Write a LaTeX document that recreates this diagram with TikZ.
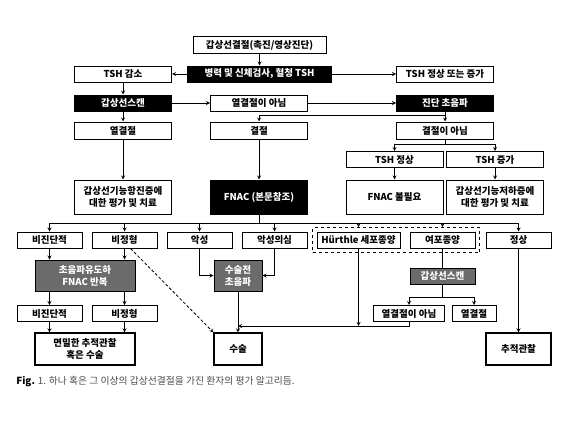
\documentclass[tikz,border=0pt]{standalone}
\usepackage{fontspec}
\newfontfamily\kr{Noto Sans CJK KR}
\usetikzlibrary{fit}
\begin{document}
\begin{tikzpicture}
  [x=1pt, y=-1pt, line width=0.8pt,
   box/.style={draw, line width=1pt, fill=white, inner sep=0pt, minimum height=16pt, align=center,
               font=\kr\bfseries\fontsize{9.5}{12}\selectfont},
   dark box/.style={box, fill=black, text=white},
   gray box/.style={box, fill=black!58, text=white},
   wide/.style={minimum width=97pt},
   narrow/.style={minimum width=65pt},
   tall/.style={minimum height=34pt},
   end box/.style={box, line width=1.3pt, minimum height=32pt},
   grp/.style={draw, dashed, line width=0.9pt, inner sep=4pt}]
  \useasboundingbox (0,0) rectangle (580,420);

  \node[box, minimum width=133pt, minimum height=17pt] (nod) at (259.5,45.5) {갑상선결절(촉진/영상진단)};
  \node[dark box, minimum width=144pt] (hx) at (259.5,74) {병력 및 신체검사, 혈청 TSH};
  \node[box, wide] (tshlow) at (123,74) {TSH 감소};
  \node[box, wide] (tshhigh) at (445,74) {TSH 정상 또는 증가};
  \node[dark box, wide] (scan) at (123,103) {갑상선스캔};
  \node[box, wide] (nothot) at (259,103) {열결절이 아님};
  \node[dark box, wide] (us) at (445,103) {진단 초음파};
  \node[box, wide, minimum height=17pt] (hot) at (123,130.5) {열결절};
  \node[box, wide, minimum height=17pt] (nodule) at (259,130.5) {결절};
  \node[box, wide, minimum height=17pt] (nonod) at (445,130.5) {결절이 아님};
  \node[box, wide] (tshnorm) at (394.5,159.5) {TSH 정상};
  \node[box, wide] (tshinc) at (495,159.5) {TSH 증가};
  \node[box, wide, tall] (hyper) at (123,197) {갑상선기능항진증에\\대한 평가 및 치료};
  \node[dark box, wide, tall] (fnac) at (259,197) {FNAC (본문참조)};
  \node[box, wide, tall] (nofnac) at (394.5,197) {FNAC 불필요};
  \node[box, wide, tall] (hypo) at (495,197) {갑상선기능저하증에\\대한 평가 및 치료};

  \node[box, narrow] (nondx) at (49.5,240) {비진단적};
  \node[box, narrow] (atyp) at (124.5,240) {비정형};
  \node[box, narrow] (malig) at (199.5,240) {악성};
  \node[box, narrow] (susp) at (274.5,240) {악성의심};
  \node[box, minimum width=83pt] (hurthle) at (358.5,240) {Hürthle 세포종양};
  \node[box, narrow] (follic) at (442.5,240) {여포종양};
  \node[box, narrow] (normal) at (518.5,240) {정상};
  \node[grp, fit=(hurthle)(follic)] (grp) {};

  \node[gray box, minimum width=100pt, minimum height=31pt] (usfnac) at (85,275.5) {초음파유도하\\FNAC 반복};
  \node[gray box, minimum width=48pt, minimum height=31pt] (preop) at (238,275.5) {수술전\\초음파};
  \node[gray box, narrow] (scan2) at (442.5,276) {갑상선스캔};
  \node[box, narrow] (nondx2) at (49.5,313.5) {비진단적};
  \node[box, narrow] (atyp2) at (124.5,313.5) {비정형};
  \node[box, minimum width=71pt] (nothot2) at (409,313.5) {열결절이 아님};
  \node[box, minimum width=44pt] (hot2) at (474,313.5) {열결절};
  \node[end box, minimum width=100pt] (close) at (85,349) {면밀한 추적관찰\\혹은 수술};
  \node[end box, minimum width=48pt] (surg) at (238,349) {수술};
  \node[end box, narrow] (followup) at (518.5,349) {추적관찰};

  \node[anchor=west, inner sep=0pt, text=black!70, font=\kr\fontsize{9.8}{12}\selectfont] (cap) at (16,382)
    {\textcolor{black}{\bfseries Fig.} 1. 하나 혹은 그 이상의 갑상선결절을 가진 환자의 평가 알고리듬.};

  \coordinate (usfork) at (445,115);
  \coordinate (nnfork) at (445,144);
  \coordinate (fan) at (259,223);
  \coordinate (scfork) at (442.5,297);
  \coordinate (mrg) at (238,326);

  \draw[-stealth] (nod) -- (hx);
  \draw[-stealth] (hx) -- (tshlow);
  \draw[-stealth] (hx) -- (tshhigh);
  \draw[-stealth] (tshlow) -- (scan);
  \draw[-stealth] (scan) -- (nothot);
  \draw[-stealth] (nothot) -- (us);
  \draw[-stealth] (scan) -- (hot);
  \draw[-stealth] (us) -- (nonod);
  \draw[-stealth] (usfork) -| (nodule);
  \draw (nonod) -- (nnfork);
  \draw[-stealth] (nnfork) -| (tshnorm);
  \draw[-stealth] (nnfork) -| (tshinc);
  \draw[-stealth] (hot) -- (hyper);
  \draw[-stealth] (nodule) -- (fnac);
  \draw[-stealth] (tshnorm) -- (nofnac);
  \draw[-stealth] (tshinc) -- (hypo);

  \draw (fnac) -- (fan);
  \draw (nondx |- fan) -- (normal |- fan);
  \draw[-stealth] (nondx |- fan) -- (nondx);
  \draw[-stealth] (atyp |- fan) -- (atyp);
  \draw[-stealth] (malig |- fan) -- (malig);
  \draw[-stealth] (susp |- fan) -- (susp);
  \draw[-stealth] (hurthle |- fan) -- (hurthle |- grp.north);
  \draw[-stealth] (follic |- fan) -- (follic |- grp.north);
  \draw[-stealth] (normal |- fan) -- (normal);

  \draw[-stealth] (nondx) -- (nondx |- usfnac.north);
  \draw[-stealth] (atyp) -- (atyp |- usfnac.north);
  \draw[-stealth] (nondx |- usfnac.south) -- (nondx2);
  \draw[-stealth] (atyp |- usfnac.south) -- (atyp2);
  \draw[-stealth] (nondx2) -- (nondx2 |- close.north);
  \draw[-stealth] (atyp2) -- (atyp2 |- close.north);
  \draw[densely dashed, -stealth] ([xshift=6pt]atyp.south) -- (surg.north west);

  \draw[-stealth] (malig) |- (preop);
  \draw[-stealth] (susp) |- (preop);
  \draw[-stealth] (preop) -- (surg);

  \draw (follic) -- (scan2);
  \draw (scan2) -- (scfork);
  \draw[-stealth] (scfork) -| (nothot2);
  \draw[-stealth] (scfork) -| (hot2);
  \draw[-stealth] (nothot2) |- (mrg);
  \draw[-stealth] (hurthle) -- (hurthle |- mrg);
  \draw[-stealth] (normal) -- (followup);
\end{tikzpicture}
\end{document}
